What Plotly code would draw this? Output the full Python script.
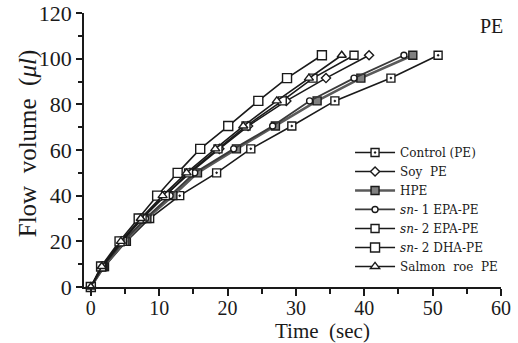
import plotly.graph_objects as go

# Flow volume levels (µl) (shared by all series)
volume = [0, 9, 20, 30, 40, 50, 60.5, 70.5, 81.5, 91.5, 101.5]

# Time (sec) at which each volume level was reached
t_control = [0, 2.0, 5.2, 8.6, 13.0, 18.4, 23.4, 29.4, 35.7, 43.9, 50.8]
t_soy     = [0, 1.7, 4.5, 7.5, 10.8, 14.5, 18.8, 23.0, 28.6, 34.4, 40.7]
t_hpe     = [0, 1.9, 5.0, 8.2, 12.0, 15.6, 21.3, 27.0, 33.1, 39.5, 47.1]
t_sn1epa  = [0, 1.8, 4.8, 8.0, 11.6, 15.2, 20.9, 26.6, 32.0, 38.5, 45.8]
t_sn2epa  = [0, 1.7, 4.6, 7.5, 10.9, 14.3, 18.6, 22.7, 28.0, 32.5, 38.5]
t_sn2dha  = [0, 1.5, 4.2, 7.0, 9.7, 12.7, 16.0, 20.1, 24.5, 28.7, 33.8]
t_salmon  = [0, 1.6, 4.4, 7.3, 10.5, 14.0, 18.2, 22.3, 27.2, 31.9, 36.7]

names = ["Control (PE)", "Soy  PE", "HPE", "<i>sn</i>- 1 EPA-PE",
         "<i>sn</i>- 2 EPA-PE", "<i>sn</i>- 2 DHA-PE", "Salmon  roe  PE"]
times = [t_control, t_soy, t_hpe, t_sn1epa, t_sn2epa, t_sn2dha, t_salmon]
symbols = ["square-dot", "diamond", "square", "circle", "square", "square", "triangle-up"]
fills = ["white", "white", "#808080", "white", "white", "white", "white"]
msizes = [8, 7, 8, 6, 8, 9, 8]
lcolors = ["#1a1a1a", "#1a1a1a", "#5a5a5a", "#3a3a3a", "#1a1a1a", "#1a1a1a", "#1a1a1a"]
lwidths = [1.6, 1.6, 2.6, 1.8, 1.6, 1.6, 1.6]

fig = go.Figure()
for n, t, s, f, ms, lc, lw in zip(names, times, symbols, fills, msizes, lcolors, lwidths):
    fig.add_trace(go.Scatter(
        x=t, y=volume, name=n, mode="lines+markers", cliponaxis=False,
        line=dict(color=lc, width=lw),
        marker=dict(symbol=s, size=ms, color=f, line=dict(color="#1a1a1a", width=1.4)),
    ))

serif = "Liberation Serif, Times New Roman, serif"
fig.update_layout(
    width=518, height=343,
    margin=dict(l=84, r=17, t=13, b=56),
    paper_bgcolor="white", plot_bgcolor="white",
    font=dict(family=serif, color="#1a1a1a", size=22),
    showlegend=True,
    legend=dict(x=0.638, y=0.544, xanchor="left", yanchor="top",
                font=dict(family="DejaVu Serif, serif", size=12, color="#1a1a1a"),
                bgcolor="rgba(0,0,0,0)", tracegroupgap=0, itemwidth=40),
    xaxis=dict(range=[-1.0, 60], showgrid=False, zeroline=False, automargin=False,
               showline=True, linecolor="#1a1a1a", linewidth=1.5,
               ticks="outside", ticklen=7, tickwidth=1.5, tickcolor="#1a1a1a",
               tickvals=[0, 10, 20, 30, 40, 50, 60], ticklabeloverflow="allow",
               ticklabelstandoff=-5,
               minor=dict(tickvals=[5, 15, 25, 35, 45, 55], ticks="outside",
                          ticklen=5, tickwidth=1.5, tickcolor="#1a1a1a", showgrid=False),
               tickfont=dict(size=20)),
    yaxis=dict(range=[0, 120], showgrid=False, zeroline=False, automargin=False,
               showline=True, linecolor="#1a1a1a", linewidth=1.5,
               ticks="outside", ticklen=6, tickwidth=1.5, tickcolor="#1a1a1a",
               tickvals=[0, 20, 40, 60, 80, 100, 120], ticklabeloverflow="allow",
               minor=dict(tickvals=[10, 30, 50, 70, 90, 110], ticks="outside",
                          ticklen=4, tickwidth=1.5, tickcolor="#1a1a1a", showgrid=False),
               tickfont=dict(size=22)),
    annotations=[
        dict(text="PE", x=0.978, y=0.953, xref="paper", yref="paper",
             xanchor="center", yanchor="middle",
             showarrow=False, font=dict(size=20, family=serif)),
        dict(text="Time  (sec)", x=0.573, y=-0.159, xref="paper", yref="paper",
             xanchor="center", yanchor="middle",
             showarrow=False, font=dict(size=21, family=serif)),
        dict(text="Flow  volume  (<i>μl</i>)", x=-0.134, y=0.525, xref="paper", yref="paper",
             xanchor="center", yanchor="middle",
             textangle=-90, showarrow=False, font=dict(size=25, family=serif)),
    ],
)

# remove the page's default body margin so the figure sits at the window's corner
fig.write_html("out.html", config={"displayModeBar": False},
               post_script="document.body.style.margin='0px';")
